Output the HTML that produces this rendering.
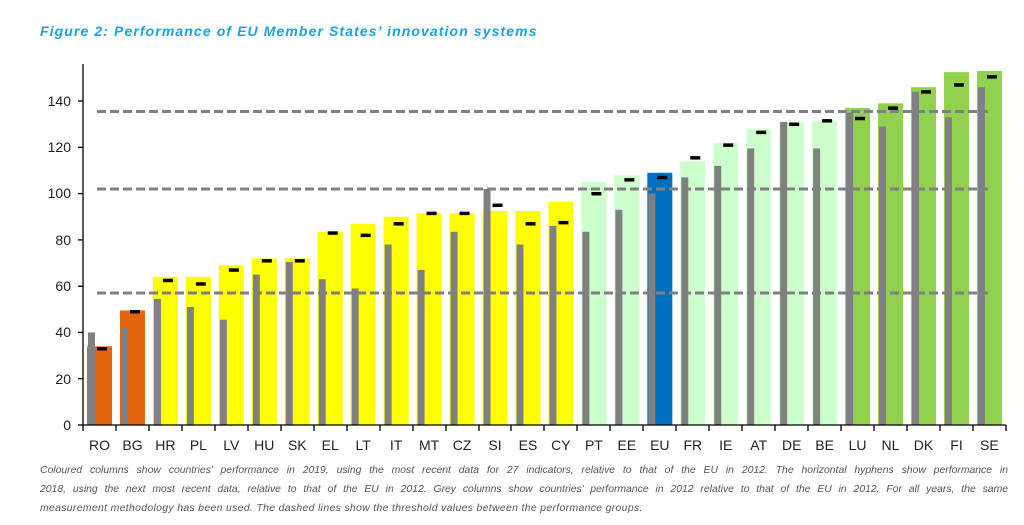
<!DOCTYPE html>
<html><head><meta charset="utf-8"><style>
body{margin:0;background:#fff;width:1024px;height:525px;overflow:hidden;font-family:"Liberation Sans",sans-serif}
.t{position:absolute;left:40px;top:23px;font-size:14px;letter-spacing:1.1px;font-weight:bold;font-style:italic;color:#1ba1e2}
.c{position:absolute;left:40px;top:461px;width:968px;font-size:10.4px;line-height:19px;font-style:italic;color:#555}
.c div{text-align:justify;text-align-last:justify;white-space:nowrap}
.c div.l{text-align-last:left}
</style></head><body>
<div class="t">Figure 2: Performance of EU Member States’ innovation systems</div>
<svg width="1024" height="525" style="position:absolute;left:0;top:0">
<g transform="translate(83,425) scale(1,-2.314)">
<g transform="translate(0,0)"><rect x="4" width="25" height="34" fill="#e3650f"/><rect x="5" width="7" height="40" fill="#808080"/><rect x="14" y="32.2" width="10" height="1.5" fill="#000"/></g>
<g transform="translate(32.96,0)"><rect x="4" width="25" height="49.5" fill="#e3650f"/><rect x="5" width="7" height="42" fill="#808080"/><rect x="14" y="48.2" width="10" height="1.5" fill="#000"/></g>
<g transform="translate(65.92,0)"><rect x="4" width="25" height="64" fill="#ffff00"/><rect x="5" width="7" height="54.5" fill="#808080"/><rect x="14" y="61.7" width="10" height="1.5" fill="#000"/></g>
<g transform="translate(98.88,0)"><rect x="4" width="25" height="64" fill="#ffff00"/><rect x="5" width="7" height="51" fill="#808080"/><rect x="14" y="60.2" width="10" height="1.5" fill="#000"/></g>
<g transform="translate(131.84,0)"><rect x="4" width="25" height="69" fill="#ffff00"/><rect x="5" width="7" height="45.5" fill="#808080"/><rect x="14" y="66.2" width="10" height="1.5" fill="#000"/></g>
<g transform="translate(164.8,0)"><rect x="4" width="25" height="72" fill="#ffff00"/><rect x="5" width="7" height="65" fill="#808080"/><rect x="14" y="70.2" width="10" height="1.5" fill="#000"/></g>
<g transform="translate(197.76,0)"><rect x="4" width="25" height="72" fill="#ffff00"/><rect x="5" width="7" height="70.5" fill="#808080"/><rect x="14" y="70.2" width="10" height="1.5" fill="#000"/></g>
<g transform="translate(230.72,0)"><rect x="4" width="25" height="83.5" fill="#ffff00"/><rect x="5" width="7" height="63" fill="#808080"/><rect x="14" y="82.2" width="10" height="1.5" fill="#000"/></g>
<g transform="translate(263.68,0)"><rect x="4" width="25" height="87" fill="#ffff00"/><rect x="5" width="7" height="59" fill="#808080"/><rect x="14" y="81.2" width="10" height="1.5" fill="#000"/></g>
<g transform="translate(296.64,0)"><rect x="4" width="25" height="90" fill="#ffff00"/><rect x="5" width="7" height="78" fill="#808080"/><rect x="14" y="86.2" width="10" height="1.5" fill="#000"/></g>
<g transform="translate(329.6,0)"><rect x="4" width="25" height="91.5" fill="#ffff00"/><rect x="5" width="7" height="67" fill="#808080"/><rect x="14" y="90.7" width="10" height="1.5" fill="#000"/></g>
<g transform="translate(362.56,0)"><rect x="4" width="25" height="91.5" fill="#ffff00"/><rect x="5" width="7" height="83.5" fill="#808080"/><rect x="14" y="90.7" width="10" height="1.5" fill="#000"/></g>
<g transform="translate(395.52,0)"><rect x="4" width="25" height="92.5" fill="#ffff00"/><rect x="5" width="7" height="102" fill="#808080"/><rect x="14" y="94.2" width="10" height="1.5" fill="#000"/></g>
<g transform="translate(428.48,0)"><rect x="4" width="25" height="92.5" fill="#ffff00"/><rect x="5" width="7" height="78" fill="#808080"/><rect x="14" y="86.2" width="10" height="1.5" fill="#000"/></g>
<g transform="translate(461.44,0)"><rect x="4" width="25" height="96.5" fill="#ffff00"/><rect x="5" width="7" height="86" fill="#808080"/><rect x="14" y="86.7" width="10" height="1.5" fill="#000"/></g>
<g transform="translate(494.4,0)"><rect x="4" width="25" height="105" fill="#ccffcc"/><rect x="5" width="7" height="83.5" fill="#808080"/><rect x="14" y="99.2" width="10" height="1.5" fill="#000"/></g>
<g transform="translate(527.36,0)"><rect x="4" width="25" height="108" fill="#ccffcc"/><rect x="5" width="7" height="93" fill="#808080"/><rect x="14" y="105.2" width="10" height="1.5" fill="#000"/></g>
<g transform="translate(560.32,0)"><rect x="4" width="25" height="109" fill="#0070c0"/><rect x="5" width="7" height="100" fill="#808080"/><rect x="14" y="106.2" width="10" height="1.5" fill="#000"/></g>
<g transform="translate(593.28,0)"><rect x="4" width="25" height="114" fill="#ccffcc"/><rect x="5" width="7" height="107" fill="#808080"/><rect x="14" y="114.7" width="10" height="1.5" fill="#000"/></g>
<g transform="translate(626.24,0)"><rect x="4" width="25" height="122" fill="#ccffcc"/><rect x="5" width="7" height="112" fill="#808080"/><rect x="14" y="120.2" width="10" height="1.5" fill="#000"/></g>
<g transform="translate(659.2,0)"><rect x="4" width="25" height="128" fill="#ccffcc"/><rect x="5" width="7" height="119.5" fill="#808080"/><rect x="14" y="125.7" width="10" height="1.5" fill="#000"/></g>
<g transform="translate(692.16,0)"><rect x="4" width="25" height="131" fill="#ccffcc"/><rect x="5" width="7" height="131" fill="#808080"/><rect x="14" y="129.2" width="10" height="1.5" fill="#000"/></g>
<g transform="translate(725.12,0)"><rect x="4" width="25" height="131.5" fill="#ccffcc"/><rect x="5" width="7" height="119.5" fill="#808080"/><rect x="14" y="130.7" width="10" height="1.5" fill="#000"/></g>
<g transform="translate(758.08,0)"><rect x="4" width="25" height="137" fill="#92d050"/><rect x="5" width="7" height="135" fill="#808080"/><rect x="14" y="131.7" width="10" height="1.5" fill="#000"/></g>
<g transform="translate(791.04,0)"><rect x="4" width="25" height="139" fill="#92d050"/><rect x="5" width="7" height="129" fill="#808080"/><rect x="14" y="136.2" width="10" height="1.5" fill="#000"/></g>
<g transform="translate(824,0)"><rect x="4" width="25" height="146" fill="#92d050"/><rect x="5" width="7" height="144" fill="#808080"/><rect x="14" y="143.2" width="10" height="1.5" fill="#000"/></g>
<g transform="translate(856.96,0)"><rect x="4" width="25" height="152.5" fill="#92d050"/><rect x="5" width="7" height="133" fill="#808080"/><rect x="14" y="146.2" width="10" height="1.5" fill="#000"/></g>
<g transform="translate(889.92,0)"><rect x="4" width="25" height="153" fill="#92d050"/><rect x="5" width="7" height="146" fill="#808080"/><rect x="14" y="149.7" width="10" height="1.5" fill="#000"/></g>
</g>
<g stroke="#808080" stroke-width="3" stroke-dasharray="9,4">
<line x1="97" x2="988" y1="111.5" y2="111.5"/>
<line x1="97" x2="988" y1="189" y2="189"/>
<line x1="97" x2="988" y1="293" y2="293"/>
</g>
<g stroke="#000" stroke-width="1.3">
<line x1="83" y1="64" x2="83" y2="425"/>
<line x1="83" y1="425" x2="1006" y2="425"/>
<line x1="78" y1="425" x2="83" y2="425"/><line x1="78" y1="378.7" x2="83" y2="378.7"/><line x1="78" y1="332.4" x2="83" y2="332.4"/><line x1="78" y1="286.2" x2="83" y2="286.2"/><line x1="78" y1="239.9" x2="83" y2="239.9"/><line x1="78" y1="193.6" x2="83" y2="193.6"/><line x1="78" y1="147.3" x2="83" y2="147.3"/><line x1="78" y1="101" x2="83" y2="101"/>
<path d="M83 425v6M116 425v6M149 425v6M182 425v6M215 425v6M248 425v6M281 425v6M314 425v6M347 425v6M380 425v6M413 425v6M446 425v6M479 425v6M511 425v6M544 425v6M577 425v6M610 425v6M643 425v6M676 425v6M709 425v6M742 425v6M775 425v6M808 425v6M841 425v6M874 425v6M907 425v6M940 425v6M973 425v6M1006 425v6"/>
</g>
<g font-size="14" fill="#222" text-anchor="end">
<text x="71" y="430">0</text><text x="71" y="384">20</text><text x="71" y="337">40</text><text x="71" y="291">60</text><text x="71" y="245">80</text><text x="71" y="198">100</text><text x="71" y="152">120</text><text x="71" y="106">140</text>
</g>
<g font-size="14" fill="#222" text-anchor="middle">
<text x="99.5" y="450">RO</text><text x="132.5" y="450">BG</text><text x="165.4" y="450">HR</text><text x="198.4" y="450">PL</text><text x="231.3" y="450">LV</text><text x="264.3" y="450">HU</text><text x="297.3" y="450">SK</text><text x="330.2" y="450">EL</text><text x="363.2" y="450">LT</text><text x="396.1" y="450">IT</text><text x="429.1" y="450">MT</text><text x="462.1" y="450">CZ</text><text x="495" y="450">SI</text><text x="528" y="450">ES</text><text x="560.9" y="450">CY</text><text x="593.9" y="450">PT</text><text x="626.9" y="450">EE</text><text x="659.8" y="450">EU</text><text x="692.8" y="450">FR</text><text x="725.7" y="450">IE</text><text x="758.7" y="450">AT</text><text x="791.7" y="450">DE</text><text x="824.6" y="450">BE</text><text x="857.6" y="450">LU</text><text x="890.5" y="450">NL</text><text x="923.5" y="450">DK</text><text x="956.5" y="450">FI</text><text x="989.4" y="450">SE</text>
</g>
</svg>
<div class="c">
<div>Coloured columns show countries’ performance in 2019, using the most recent data for 27 indicators, relative to that of the EU in 2012. The horizontal hyphens show performance in</div>
<div>2018, using the next most recent data, relative to that of the EU in 2012. Grey columns show countries’ performance in 2012 relative to that of the EU in 2012. For all years, the same</div>
<div class="l" style="letter-spacing:0.35px">measurement methodology has been used. The dashed lines show the threshold values between the performance groups.</div>
</div>
</body></html>
